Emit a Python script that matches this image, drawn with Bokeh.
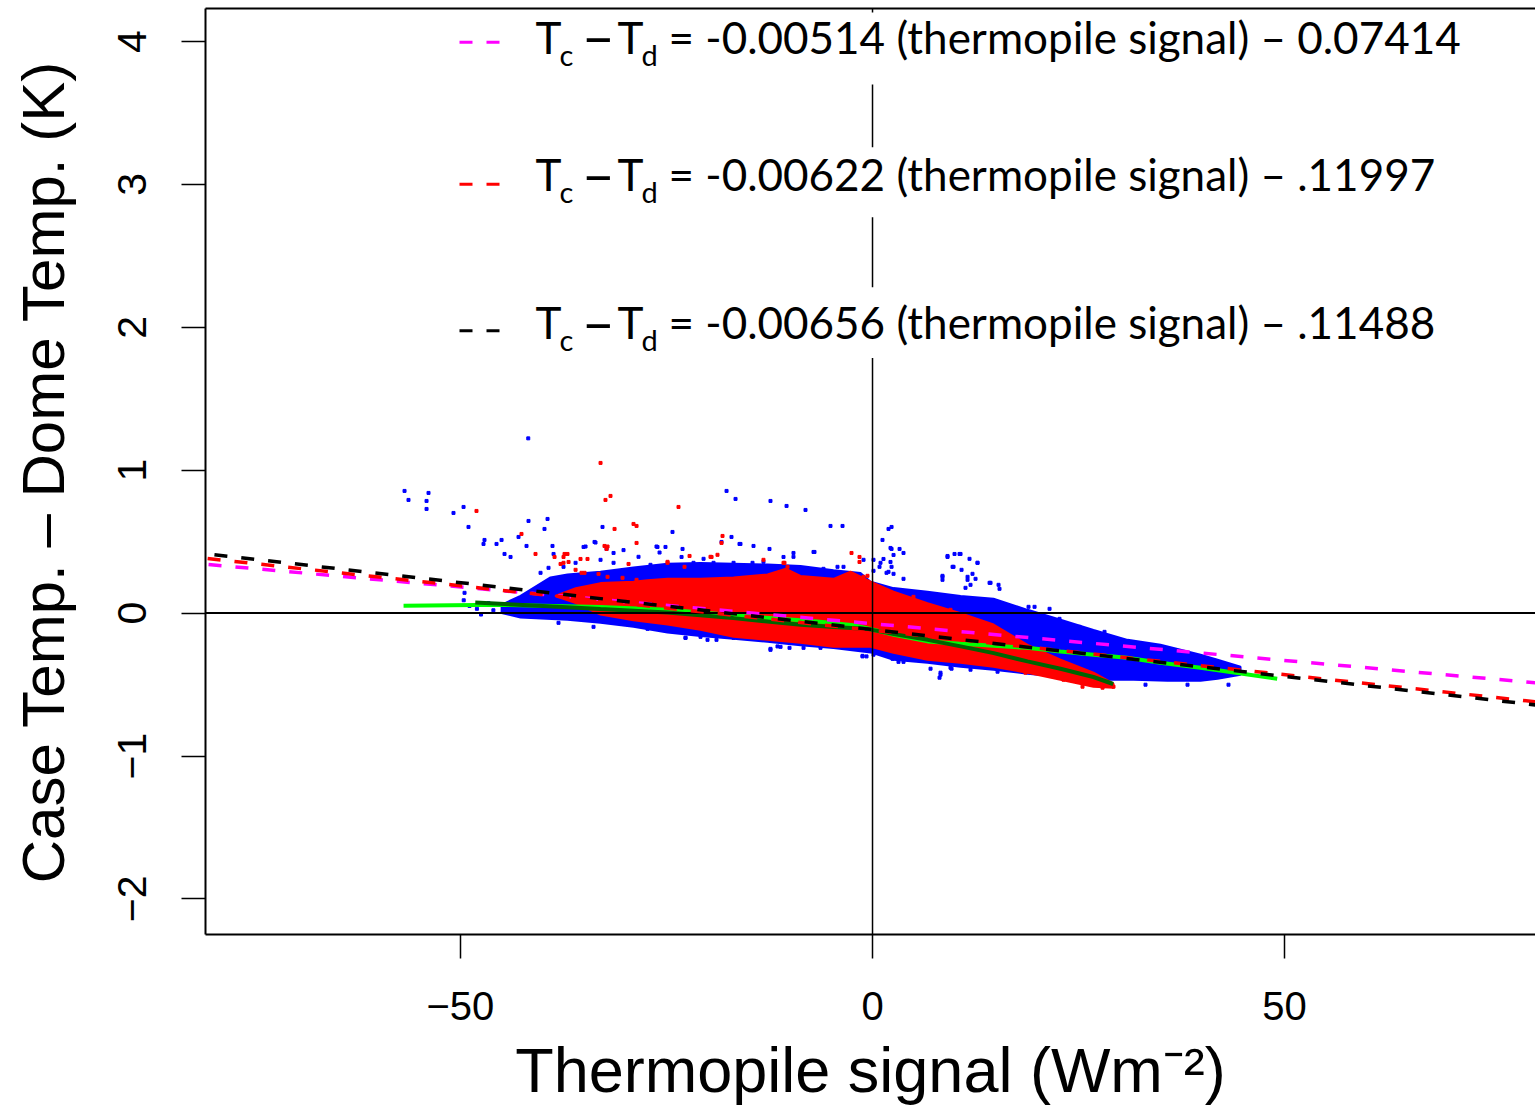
from bokeh.plotting import figure
from bokeh.models import (Range1d, FixedTicker, LinearAxis, Span, Slope, Label,
                          BoxAnnotation)
from bokeh.embed import file_html
from bokeh.resources import INLINE

# ---------------- data ----------------
x_ticks = [-50, 0, 50]
y_ticks = [-2, -1, 0, 1, 2, 3, 4]

# dense core of dataset 1 (blue): outline, top edge left->right then bottom right->left
blue_core_x = [-45.00, -42.71, -39.07, -37.01, -33.00, -29.00, -24.87, -20.87, -16.86, -12.74,
               -8.74, -4.73, -1.46, -0.24, 2.55, 6.67, 10.68, 14.68, 18.81, 22.81, 26.81,
               30.94, 34.94, 39.80, 41.86, 44.65,
               44.65, 41.86, 39.80, 35.79, 31.67, 27.66, 22.81, 18.81, 14.68, 10.68, 6.67,
               2.55, -0.24, -4.73, -8.74, -12.74, -16.86, -20.87, -24.87, -29.00, -33.00,
               -37.01, -42.71, -45.00]
blue_core_y = [0.060, 0.120, 0.250, 0.270, 0.290, 0.320, 0.345, 0.350, 0.345, 0.340,
               0.330, 0.300, 0.280, 0.220, 0.175, 0.150, 0.120, 0.100, 0.023, -0.047, -0.117,
               -0.187, -0.222, -0.291, -0.326, -0.375,
               -0.431, -0.459, -0.473, -0.473, -0.466, -0.466, -0.445, -0.424, -0.396, -0.375,
               -0.347, -0.326, -0.275, -0.245, -0.225, -0.200, -0.180, -0.160, -0.135, -0.096,
               -0.068, -0.047, -0.030, 0.000]

# scattered points of dataset 1 (blue)
blue_pts_x = [-41.77, -56.78, -53.87, -56.30, -54.11, -54.11, -49.62, -50.84, -49.02, -41.74,
              -39.43, -39.80, -47.08, -47.20, -45.01, -45.62, -44.65, -43.92, -42.95, -41.98,
              -49.50, -40.28, -38.83, -17.71, -16.62, -12.38, -10.43, -8.13, -24.27, -17.11,
              -18.32, -5.10, -3.64, 1.94, 2.31, 1.21, 2.18, -14.44, -12.50, -7.04,
              -16.14, 2.55, -32.76, -33.73, -35.06, -26.09, -25.12, 2.31, 3.28, 3.76,
              1.33, 2.18, 0.85, 2.31, 1.70, 0.12, 2.55, 3.76, 9.10, 9.95,
              10.56, 9.71, 11.77, 12.74, 10.80, 8.49, 8.49, 11.53, 12.13, 12.50,
              14.20, 15.29, 15.41, 11.28, 11.89, 21.48, 19.66, 18.93, 22.69, 23.05,
              25.12, 24.14, 28.63, 28.03, 7.04, 8.25, 8.13, 9.59, 33.12, 28.15,
              43.19, 44.29, 34.94, 42.10, 38.22, -1.21, 0.12, -12.38, -10.07, -22.69,
              2.43, 3.15, -38.70, -33.61, -32.27, -31.42, -39.31, -23.05, -23.17, -10.80,
              -9.59, -7.16, -5.95, -4.25, 0.12, -0.73, -11.53, -8.37, -38.10, -33.85,
              -29.60, -27.30, -20.02, -16.86, -49.6, -48.9, -48.0, -46.6, -47.5, -46.0,
              -34.82, -30.21, -28.39, -26.21, -25.84, -20.50, -16.02, -14.56, -13.23, -9.59,
              -37.01, -37.49, -36.03, -33.00, -31.42, -26.94, -24.51, -21.72, -19.29, -16.86,
              -11.16, -5.95, -3.52, -1.09, 0.97, 1.94, 9.10, 10.68, 12.74, 9.83,
              14.32, 8.49, 11.53,
              -30.82, -25.72, -22.69, -20.87, -18.93, -12.38, -11.16, -8.98, -6.31, -3.28,
              -1.21, 2.55, 3.76, 8.25, 9.46, 11.89, 15.17]
blue_pts_y = [1.223, 0.855, 0.841, 0.792, 0.785, 0.729, 0.743, 0.701, 0.603, 0.645,
              0.659, 0.589, 0.512, 0.484, 0.512, 0.484, 0.414, 0.393, 0.533, 0.470,
              0.142, 0.282, 0.470, 0.855, 0.799, 0.785, 0.750, 0.722, 0.568, 0.533,
              0.498, 0.610, 0.610, 0.589, 0.603, 0.512, 0.456, 0.470, 0.449, 0.428,
              0.484, 0.407, 0.603, 0.498, 0.463, 0.463, 0.463, 0.449, 0.449, 0.421,
              0.379, 0.358, 0.324, 0.324, 0.282, 0.296, 0.275, 0.240, 0.393, 0.414,
              0.414, 0.324, 0.380, 0.352, 0.303, 0.261, 0.233, 0.254, 0.275, 0.240,
              0.212, 0.198, 0.170, 0.177, 0.198, 0.030, 0.044, 0.044, -0.040, -0.068,
              -0.096, -0.110, -0.173, -0.187, -0.389, -0.431, -0.452, -0.389, -0.501, -0.131,
              -0.501, -0.396, -0.249, -0.375, -0.501, -0.303, -0.291, -0.257, -0.243, -0.173,
              -0.320, -0.341, 0.414, 0.494, 0.449, 0.421, 0.317, 0.449, 0.393, 0.393,
              0.421, 0.428, 0.310, 0.324, 0.373, -0.303, -0.233, -0.243, -0.068, -0.096,
              -0.082, -0.110, -0.187, -0.173, 0.090, 0.050, 0.030, 0.070, -0.010, 0.020,
              0.466, 0.441, 0.394, 0.466, 0.424, 0.380, 0.484, 0.352, 0.359, 0.394,
              0.254, 0.324, 0.352, 0.373, 0.352, 0.338, 0.303, 0.352, 0.352, 0.352,
              0.324, 0.254, 0.324, 0.373, 0.352, 0.289, 0.400, 0.414, 0.352, 0.324,
              0.212, 0.254, 0.233,
              -0.068, -0.117, -0.173, -0.166, -0.187, -0.250, -0.236, -0.208, -0.243, -0.243,
              -0.299, -0.313, -0.341, -0.417, -0.382, -0.396, -0.410]

# dense core of dataset 2 (red)
red_core_x = [-38.50, -36.00, -33.00, -29.00, -27.30, -24.87, -20.87, -16.86, -12.74, -10.50,
              -8.74, -4.73, -2.67, -0.24, 2.55, 6.67, 10.68, 14.68, 18.81, 22.81, 26.81, 29.24,
              29.24, 26.81, 22.81, 18.81, 14.68, 10.68, 6.67, 2.55, -0.24, -4.73,
              -8.74, -12.74, -16.86, -20.87, -24.87, -29.00, -33.00, -36.00]
red_core_y = [0.120, 0.175, 0.210, 0.220, 0.230, 0.240, 0.240, 0.250, 0.270, 0.310,
              0.260, 0.240, 0.290, 0.220, 0.150, 0.070, 0.000, -0.080, -0.222, -0.326,
              -0.417, -0.494,
              -0.522, -0.515, -0.466, -0.417, -0.375, -0.347, -0.326, -0.278, -0.236, -0.236,
              -0.208, -0.187, -0.166, -0.117, -0.080, -0.050, -0.010, 0.070]

# scattered points of dataset 2 (red)
red_pts_x = [-33.00, -31.79, -32.40, -48.05, -23.54, -31.30, -29.00, -28.63, -28.63, -42.59,
             -40.89, -38.58, -37.49, -18.20, -22.20, -2.55, -1.58, -32.52, -32.27, -37.37,
             -36.88, -37.85, -35.43, -34.58, -36.03, -34.94, -33.24, -32.15, -29.60, -24.87,
             -19.53, -18.32, -13.23, -10.80, -1.58, -0.61, -1.09, 1.33, 4.97, 7.04,
             9.46, 18.56, 21.23, 23.17, 25.48, 26.45, 27.91, 29.24,
             -19.66, -18.81, -10.68, -10.31, -24.87, -22.81, -32.15, -30.33, -28.63, -35.31,
             -37.01, -37.49]
red_pts_y = [1.051, 0.820, 0.792, 0.715, 0.743, 0.589, 0.624, 0.610, 0.491, 0.554,
             0.414, 0.393, 0.393, 0.540, 0.400, 0.421, 0.393, 0.470, 0.449, 0.414,
             0.358, 0.344, 0.379, 0.379, 0.303, 0.282, 0.275, 0.466, 0.344, 0.352,
             0.393, 0.491, 0.373, 0.352, 0.358, 0.261, 0.254, 0.163, 0.114, 0.023,
             0.023, -0.417, -0.417, -0.466, -0.515, -0.487, -0.522, -0.515,
             0.394, 0.408, 0.352, 0.324, 0.359, 0.324, 0.254, 0.247, 0.233, 0.282,
             0.414, 0.352]

# smoothed curves
green_x = [-56.9, -45.1, -33.0, -24.9, -14.4, -10.8, -6.7, -2.3, 0.0, 2.6, 6.7, 10.7, 14.7,
           18.8, 22.8, 26.8, 30.9, 34.9, 39.8, 49.1]
green_y = [0.052, 0.058, 0.042, 0.023, -0.026, -0.042, -0.058, -0.085, -0.115, -0.152,
           -0.198, -0.215, -0.229, -0.243, -0.268, -0.291, -0.313, -0.347, -0.382, -0.459]
dkgreen_x = [-48.2, -40.0, -33.0, -24.9, -16.9, -8.7, -4.7, -0.5, 2.6, 6.7, 10.7, 14.7,
             18.8, 22.8, 26.8, 29.2]
dkgreen_y = [0.075, 0.050, 0.028, 0.005, -0.035, -0.082, -0.098, -0.112, -0.147, -0.187,
             -0.233, -0.280, -0.338, -0.389, -0.447, -0.496]

# regression lines (from the legend)
fit_slopes = [-0.00514, -0.00622, -0.00656]
fit_intercepts = [-0.07414, -0.11997, -0.11488]
fit_colors = ["#FF00FF", "#FF0000", "#000000"]
fit_labels = ["-0.00514 (thermopile signal) \u2013 0.07414",
              "-0.00622 (thermopile signal) \u2013 .11997",
              "-0.00656 (thermopile signal) \u2013 .11488"]

# ---------------- figure ----------------
X0, X1 = -80.93, 80.44
Y0, Y1 = -2.249, 4.231
W, H = 1535, 1107
FL, FR, FT, FB = 205, 1535, 8, 935   # frame edges in page pixels

p = figure(width=W, height=H, x_range=Range1d(X0, X1), y_range=Range1d(Y0, Y1),
           output_backend="svg", toolbar_location=None,
           min_border_left=FL, min_border_right=W - FR, min_border_top=FT,
           min_border_bottom=H - FB)
p.grid.visible = False
p.outline_line_color = None
p.background_fill_color = "white"

AX_FONT = "Liberation Sans"
minus = "\u2212"

xa = p.xaxis[0]
xa.ticker = FixedTicker(ticks=x_ticks)
xa.major_label_overrides = {t: (minus + str(abs(t)) if t < 0 else str(t)) for t in x_ticks}
xa.axis_line_color = "black"
xa.axis_line_width = 2
xa.major_tick_out = 24
xa.major_tick_in = 0
xa.major_tick_line_width = 1.5
xa.minor_tick_line_color = None
xa.major_label_text_font = AX_FONT
xa.major_label_text_font_size = "40px"
xa.major_label_text_color = "black"
xa.major_label_standoff = 33
xa.axis_label = "Thermopile signal (Wm\u207b\u00b2)"
xa.axis_label_text_font = AX_FONT
xa.axis_label_text_font_size = "63px"
xa.axis_label_text_font_style = "normal"
xa.axis_label_text_color = "black"
xa.axis_label_standoff = 12

ya = p.yaxis[0]
ya.ticker = FixedTicker(ticks=y_ticks)
ya.major_label_overrides = {t: (minus + str(abs(t)) if t < 0 else str(t)) for t in y_ticks}
ya.axis_line_color = "black"
ya.axis_line_width = 2
ya.major_tick_out = 24
ya.major_tick_in = 0
ya.major_tick_line_width = 1.5
ya.minor_tick_line_color = None
ya.major_label_orientation = "vertical"
ya.major_label_text_font = AX_FONT
ya.major_label_text_font_size = "41px"
ya.major_label_text_color = "black"
ya.major_label_standoff = 35
ya.axis_label = "Case Temp. \u2013 Dome Temp. (K)"
ya.axis_label_text_font = AX_FONT
ya.axis_label_text_font_size = "60px"
ya.axis_label_text_font_style = "normal"
ya.axis_label_text_color = "black"
ya.axis_label_standoff = 39

top_axis = LinearAxis(ticker=FixedTicker(ticks=[]), axis_line_color="black", axis_line_width=2,
                      major_tick_out=0, major_tick_in=0, minor_tick_out=0, minor_tick_in=0,
                      major_label_text_font_size="0px")
p.add_layout(top_axis, "above")

# ---------------- data marks ----------------
p.patch(blue_core_x, blue_core_y, fill_color="#0000FF", line_color="#0000FF", line_width=2)
p.scatter(blue_pts_x, blue_pts_y, marker="square", size=3, color="#0000FF")
p.patch(red_core_x, red_core_y, fill_color="#FF0000", line_color="#FF0000", line_width=2)
p.scatter(red_pts_x, red_pts_y, marker="square", size=3, color="#FF0000")

p.line(green_x, green_y, line_color="#00FF00", line_width=4)
p.line(dkgreen_x, dkgreen_y, line_color="#006400", line_width=4)

p.add_layout(Span(location=0, dimension="width", line_color="black", line_width=2))
p.add_layout(Span(location=0, dimension="height", line_color="black", line_width=1.5))

for s, b, c in zip(fit_slopes, fit_intercepts, fit_colors):
    p.add_layout(Slope(gradient=s, y_intercept=b, line_color=c, line_width=3.5,
                       line_dash="13 14"))


# ---------------- legend (positioned from page pixels) ----------------
def gx(px):
    return X0 + (px - FL) * (X1 - X0) / (FR - FL)


def gy(py):
    return Y1 - (py - FT) * (Y1 - Y0) / (FB - FT)


box_rows = [(12, 84), (147, 217), (287, 358)]
base_rows = [52, 190, 338]
key_rows = [41.7, 184, 330.7]
LG_FONT = "Lato"
MAIN, SUB, DASH = 44, 29, 58
for i in range(3):
    t, b = box_rows[i]
    p.add_layout(BoxAnnotation(left=gx(520), right=gx(1470), top=gy(t), bottom=gy(b),
                               fill_color="white", fill_alpha=1.0, line_color=None))
    ky = gy(key_rows[i])
    p.line([gx(459), gx(499)], [ky, ky], line_color=fit_colors[i], line_width=3,
           line_dash="13 14")
    base = base_rows[i]
    by = gy(base - 0.36 * MAIN)
    sy = gy(base + 12 - 0.36 * SUB)
    dy = gy(base + 3 - 0.36 * DASH)
    common = dict(text_font=LG_FONT, text_color="black", text_baseline="alphabetic")
    p.add_layout(Label(x=gx(535), y=by, text="T", text_font_size=f"{MAIN}px", **common))
    p.add_layout(Label(x=gx(559), y=sy, text="c", text_font_size=f"{SUB}px", **common))
    p.add_layout(Label(x=gx(581), y=dy, text="\u2013", text_font_size=f"{DASH}px", **common))
    p.add_layout(Label(x=gx(617), y=by, text="T", text_font_size=f"{MAIN}px", **common))
    p.add_layout(Label(x=gx(641), y=sy, text="d", text_font_size=f"{SUB}px", **common))
    p.add_layout(Label(x=gx(668), y=by, text="= " + fit_labels[i],
                       text_font_size=f"{MAIN}px", **common))

open("out.html", "w").write(file_html(p, INLINE))
